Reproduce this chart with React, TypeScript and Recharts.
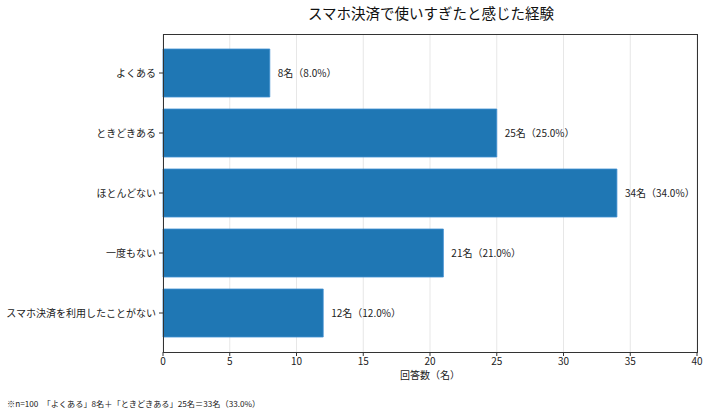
import React from 'react';
import { BarChart, Bar, XAxis, YAxis, CartesianGrid, LabelList } from 'recharts';

const categories = ['よくある', 'ときどきある', 'ほとんどない', '一度もない', 'スマホ決済を利用したことがない'];
const counts = [8, 25, 34, 21, 12];
const xTicks = [0, 5, 10, 15, 20, 25, 30, 35, 40];
const TOTAL = 100;

const chartData = categories.map((name, i) => ({ name, count: counts[i] }));

const FONT = '"Noto Sans CJK JP", "Noto Sans", sans-serif';

const App: React.FC = () => {
  return (
    <div style={{ position: 'absolute', left: 0, top: 0, width: 709, height: 415, fontFamily: FONT, background: '#fff' }}>
      <div
        style={{
          position: 'absolute', left: 164, top: 4, width: 534, textAlign: 'center',
          fontSize: 14.5, lineHeight: '18px', color: '#111', fontWeight: 400,
        }}
      >
        スマホ決済で使いすぎたと感じた経験
      </div>
      <BarChart
        width={709}
        height={415}
        data={chartData}
        layout="vertical"
        margin={{ top: 34, right: 12, bottom: 0, left: 0 }}
        barCategoryGap={0}
      >
        <XAxis
          type="number"
          domain={[0, 40]}
          ticks={xTicks}
          height={63}
          axisLine={false}
          tickLine={{ stroke: '#333' }}
          tickSize={4}
          tick={{ fill: '#222', fontSize: 10 }}
        />
        <YAxis
          type="category"
          dataKey="name"
          width={163}
          padding={{ top: 9, bottom: 9 }}
          axisLine={false}
          tickLine={{ stroke: '#333' }}
          tickSize={4}
          tickMargin={3}
          tick={{ fill: '#222', fontSize: 10 }}
        />
        <Bar dataKey="count" fill="#1f77b4" stroke="#3f8fd2" strokeWidth={0.8} barSize={48} isAnimationActive={false}>
          <LabelList
            dataKey="count"
            position="right"
            offset={8}
            fill="#222"
            fontSize={10}
            formatter={(v: any) => `${v}名（${((Number(v) / TOTAL) * 100).toFixed(1)}%）`}
          />
        </Bar>
        <CartesianGrid horizontal={false} stroke="#b0b0b0" strokeOpacity={0.3} />
      </BarChart>
      <div
        style={{
          position: 'absolute', left: 162.5, top: 33.5, width: 535, height: 319,
          border: '1px solid #333', boxSizing: 'border-box', pointerEvents: 'none',
        }}
      />
      <div
        style={{
          position: 'absolute', left: 163, top: 369, width: 534, textAlign: 'center',
          fontSize: 10, lineHeight: '11px', color: '#222',
        }}
      >
        回答数（名）
      </div>
      <div style={{ position: 'absolute', left: 7, top: 397, fontSize: 8.2, lineHeight: '12px', color: '#222', whiteSpace: 'nowrap' }}>
        ※n=100　「よくある」8名＋「ときどきある」25名＝33名（33.0%）
      </div>
    </div>
  );
};

export default App;
